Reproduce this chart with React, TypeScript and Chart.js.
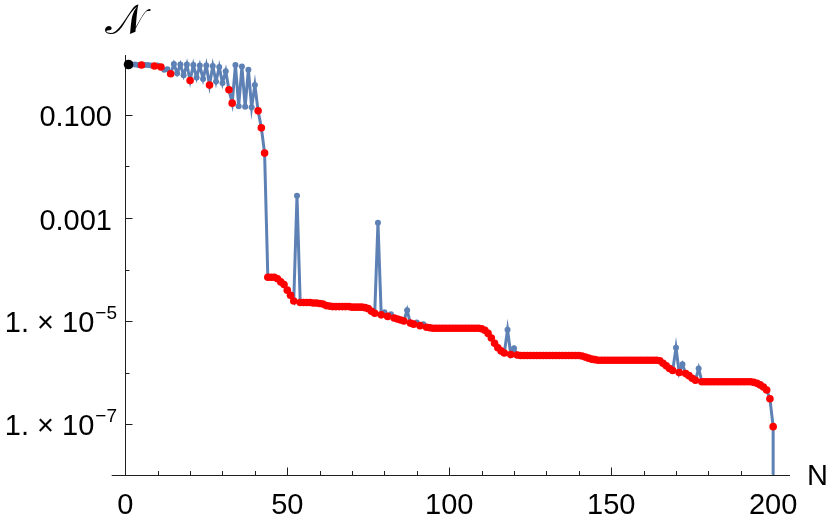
import React, { useEffect, useRef } from "react";
import { Chart, registerables } from "chart.js";

Chart.register(...registerables);

// log10 of the plotted quantity for N = 1 .. 200
const valuesLog10: number[] = [
  -0.02, -0.02, -0.02, -0.03, -0.03, -0.03, -0.03, -0.04, -0.05, -0.04,
  -0.07, -0.12, -0.11, -0.20, -0.01, -0.19, -0.02, -0.23, -0.02, -0.33,
  -0.03, -0.27, -0.04, -0.30, -0.04, -0.42, -0.05, -0.35, -0.07, -0.38,
  -0.15, -0.51, -0.77, -0.03, -0.83, -0.06, -0.84, -0.12, -0.85, -0.42,
  -0.92, -1.25, -1.74, -4.15, -4.15, -4.15, -4.18, -4.24, -4.29, -4.40,
  -4.50, -4.61, -2.57, -4.64, -4.64, -4.64, -4.64, -4.65, -4.65, -4.66,
  -4.67, -4.70, -4.71, -4.72, -4.72, -4.72, -4.72, -4.72, -4.72, -4.73,
  -4.73, -4.73, -4.73, -4.74, -4.76, -4.81, -4.85, -3.09, -4.88, -4.83,
  -4.91, -4.87, -4.94, -4.96, -4.98, -5.00, -4.79, -5.04, -5.06, -5.03,
  -5.09, -5.06, -5.12, -5.13, -5.14, -5.14, -5.14, -5.14, -5.14, -5.14,
  -5.14, -5.14, -5.14, -5.14, -5.14, -5.14, -5.14, -5.14, -5.14, -5.15,
  -5.18, -5.24, -5.33, -5.43, -5.52, -5.58, -5.62, -5.17, -5.65, -5.53,
  -5.66, -5.67, -5.67, -5.67, -5.67, -5.67, -5.67, -5.67, -5.67, -5.67,
  -5.67, -5.67, -5.67, -5.67, -5.67, -5.67, -5.67, -5.67, -5.67, -5.67,
  -5.68, -5.70, -5.72, -5.74, -5.75, -5.76, -5.76, -5.76, -5.76, -5.76,
  -5.76, -5.76, -5.76, -5.76, -5.76, -5.76, -5.76, -5.76, -5.76, -5.76,
  -5.76, -5.76, -5.76, -5.76, -5.77, -5.82, -5.87, -5.92, -5.96, -5.52,
  -6.00, -5.84, -6.02, -6.06, -6.11, -6.15, -5.92, -6.18, -6.18, -6.18,
  -6.18, -6.18, -6.18, -6.18, -6.18, -6.18, -6.18, -6.18, -6.18, -6.18,
  -6.18, -6.18, -6.18, -6.19, -6.21, -6.24, -6.28, -6.34, -6.51, -7.05,
];

// the curve falls off the bottom of the plot right after the last point
const endDropN = 200;
const endDropValue = 1e-14;

// N values marked in red in the oscillating part
const redUpperN: number[] = [5, 9, 11, 14, 20, 26, 32, 33, 41, 42, 43];
// from here on, every N is marked red except the spikes below
const redPlateauFromN = 44;
const blueOnlyN: number[] = [53, 78, 80, 82, 87, 90, 92, 118, 120, 170, 172, 177];
// N values marked in black
const blackN: number[] = [1];

// axes
const xMin = -4.2;
const xMax = 205.2;
const yMin = 1.04e-8;
const yMax = 1.46;
const xMajorTicks: number[] = [0, 50, 100, 150, 200];
const xMinorTicks: number[] = [10, 20, 30, 40, 60, 70, 80, 90, 110, 120, 130, 140, 160, 170, 180, 190];
const yMajorTicks: number[] = [1e-1, 1e-3, 1e-5, 1e-7];
const yMajorMantissa: string[] = ["0.100", "0.001", "1. \u00d7 10", "1. \u00d7 10"];
const yMajorExponent: string[] = ["", "", "\u22125", "\u22127"];
const yMinorTicks: number[] = [1, 1e-2, 1e-4, 1e-6];
const xAxisTitle = "N";
const yAxisTitle = "\u{1D4A9}";

const BLUE = "#5E81B5";
const RED = "#FF0000";
const AXIS = "#1e1e1e";
const FONT = '"Liberation Sans", Arial, Helvetica, sans-serif';

const valueAt = (n: number) => Math.pow(10, valuesLog10[n - 1]);

const axesPlugin = {
  id: "mmaAxes",
  beforeDatasetsDraw(chart: any) {
    const { ctx, chartArea } = chart;
    const xs = chart.scales.x;
    const ys = chart.scales.y;
    const x0 = Math.round(xs.getPixelForValue(0)) + 0.5;
    const yb = Math.round(chartArea.bottom) + 0.5;
    ctx.save();
    ctx.strokeStyle = AXIS;
    ctx.lineWidth = 1;
    ctx.beginPath();
    ctx.moveTo(chartArea.left, yb);
    ctx.lineTo(chartArea.right, yb);
    ctx.moveTo(x0, chartArea.top);
    ctx.lineTo(x0, yb);
    // x ticks (inward)
    for (const t of xMajorTicks) {
      const px = Math.round(xs.getPixelForValue(t)) + 0.5;
      ctx.moveTo(px, yb);
      ctx.lineTo(px, yb - 8);
    }
    for (const t of xMinorTicks) {
      const px = Math.round(xs.getPixelForValue(t)) + 0.5;
      ctx.moveTo(px, yb);
      ctx.lineTo(px, yb - 4.5);
    }
    for (const t of yMajorTicks) {
      const py = Math.round(ys.getPixelForValue(t)) + 0.5;
      ctx.moveTo(x0, py);
      ctx.lineTo(x0 + 7, py);
    }
    for (const t of yMinorTicks) {
      const py = Math.round(ys.getPixelForValue(t)) + 0.5;
      ctx.moveTo(x0, py);
      ctx.lineTo(x0 + 4, py);
    }
    ctx.stroke();

    ctx.fillStyle = "#000";
    ctx.font = `29px ${FONT}`;
    ctx.textAlign = "center";
    ctx.textBaseline = "alphabetic";
    for (const t of xMajorTicks) {
      ctx.fillText(String(t), xs.getPixelForValue(t), 514);
    }
    // y labels
    yMajorTicks.forEach((t, i) => {
      const py = ys.getPixelForValue(t);
      const exp = yMajorExponent[i];
      if (!exp) {
        ctx.font = `29px ${FONT}`;
        ctx.textAlign = "right";
        ctx.fillText(yMajorMantissa[i], 112, py + 11.5);
      } else {
        ctx.font = `19px ${FONT}`;
        const ew = ctx.measureText(exp).width;
        ctx.textAlign = "left";
        const ex = 117 - ew;
        ctx.fillText(exp, ex, py - 2.5);
        ctx.font = `29px ${FONT}`;
        ctx.textAlign = "right";
        ctx.fillText(yMajorMantissa[i], ex - 1, py + 11);
      }
    });
    // axis titles
    ctx.font = `29px ${FONT}`;
    ctx.textAlign = "left";
    ctx.fillText(xAxisTitle, 807, 485);
    ctx.font = `42px "DejaVu Sans", "DejaVu Serif", "Noto Sans", serif`;
    ctx.textAlign = "center";
    ctx.fillText(yAxisTitle, 125, 34);
    ctx.restore();
  },
};

export default function App() {
  const canvasRef = useRef<HTMLCanvasElement | null>(null);

  useEffect(() => {
    const canvas = canvasRef.current;
    if (!canvas) return;

    const blueData = valuesLog10.map((_, i) => ({ x: i + 1, y: valueAt(i + 1) }));
    blueData.push({ x: endDropN, y: endDropValue });
    const bluePointRadius = blueData.map((_, i) => (i < valuesLog10.length ? 3 : 0));

    const redN: number[] = [...redUpperN];
    for (let n = redPlateauFromN; n <= valuesLog10.length; n++) {
      if (!blueOnlyN.includes(n)) redN.push(n);
    }
    const redData = redN.map((n) => ({ x: n, y: valueAt(n) }));
    const blackData = blackN.map((n) => ({ x: n, y: valueAt(n) }));

    const chart = new Chart(canvas, {
      type: "line",
      data: {
        datasets: [
          {
            label: "black",
            data: blackData,
            showLine: false,
            pointRadius: 4.8,
            pointBackgroundColor: "#000",
            pointBorderWidth: 0,
            borderColor: "#000",
            order: 0,
          },
          {
            label: "red",
            data: redData,
            showLine: false,
            pointRadius: 3.8,
            pointBackgroundColor: RED,
            pointBorderWidth: 0,
            borderColor: RED,
            order: 1,
          },
          {
            label: "blue",
            data: blueData,
            borderColor: BLUE,
            borderWidth: 3,
            pointRadius: bluePointRadius,
            pointBackgroundColor: BLUE,
            pointBorderWidth: 0,
            tension: 0,
            order: 2,
          },
        ],
      },
      options: {
        animation: false,
        responsive: false,
        devicePixelRatio: 1,
        layout: { padding: { left: 111.7, right: 40, top: 55, bottom: 50.3 } },
        plugins: { legend: { display: false }, tooltip: { enabled: false } },
        events: [],
        scales: {
          x: { type: "linear", min: xMin, max: xMax, display: false },
          y: { type: "logarithmic", min: yMin, max: yMax, display: false },
        },
      },
      plugins: [axesPlugin],
    });
    return () => chart.destroy();
  }, []);

  return (
    <div style={{ position: "fixed", left: 0, top: 0, width: 830, height: 525, background: "#fff" }}>
      <canvas ref={canvasRef} width={830} height={525} style={{ width: 830, height: 525 }} />
    </div>
  );
}
